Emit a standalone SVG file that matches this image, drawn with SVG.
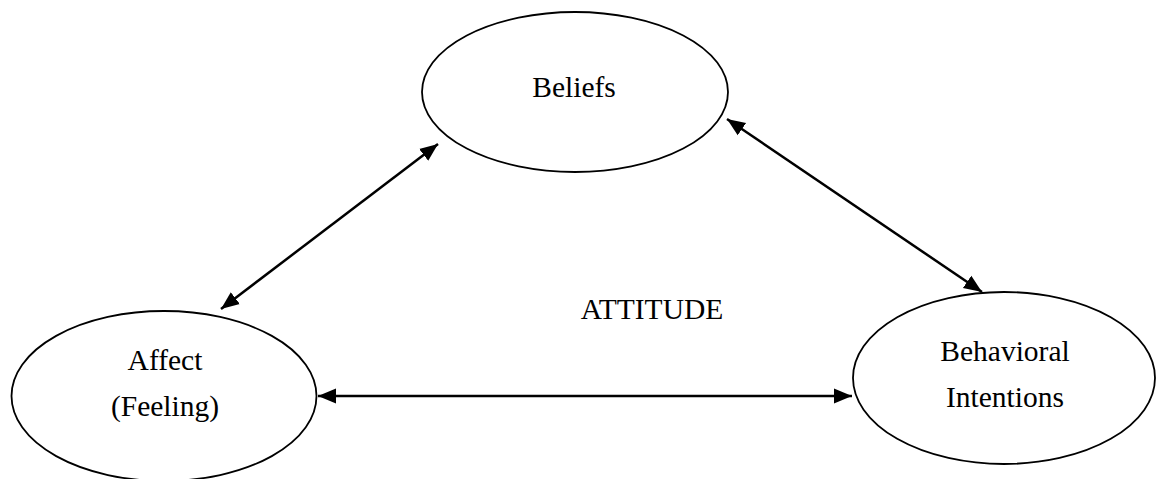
<svg xmlns="http://www.w3.org/2000/svg" width="1157" height="479" viewBox="0 0 1157 479">
<style>
.node ellipse{fill:#fff;stroke:#000;stroke-width:1.8}
text{font-family:"Liberation Serif","Times New Roman",serif;font-size:29.5px;fill:#000;text-anchor:middle}
.conn line{stroke:#000;stroke-width:2.5;fill:none;marker-start:url(#ah);marker-end:url(#ah)}
</style>
<defs>
<marker id="ah" markerUnits="userSpaceOnUse" markerWidth="20" markerHeight="18" viewBox="0 0 20 18" refX="18" refY="9" orient="auto-start-reverse">
<path d="M0,1.5 L18,9 L0,16.5 Z" fill="#000"/>
</marker>
</defs>
<rect width="1157" height="479" fill="#fff"/>
<g id="beliefs" class="node">
<ellipse cx="575" cy="92" rx="153" ry="80"/>
<text x="574" y="97">Beliefs</text>
</g>
<g id="affect" class="node">
<ellipse cx="164" cy="396" rx="152.5" ry="85"/>
<text x="165" y="370">Affect</text>
<text x="165" y="416">(Feeling)</text>
</g>
<g id="behavioral" class="node">
<ellipse cx="1004" cy="378" rx="151" ry="86"/>
<text x="1005" y="361">Behavioral</text>
<text x="1005" y="407">Intentions</text>
</g>
<g id="attitude">
<text x="652" y="319">ATTITUDE</text>
</g>
<g id="connectors" class="conn">
<line x1="438" y1="144" x2="221" y2="309"/>
<line x1="727" y1="119" x2="982" y2="292"/>
<line x1="318" y1="396" x2="852" y2="396"/>
</g>
</svg>
